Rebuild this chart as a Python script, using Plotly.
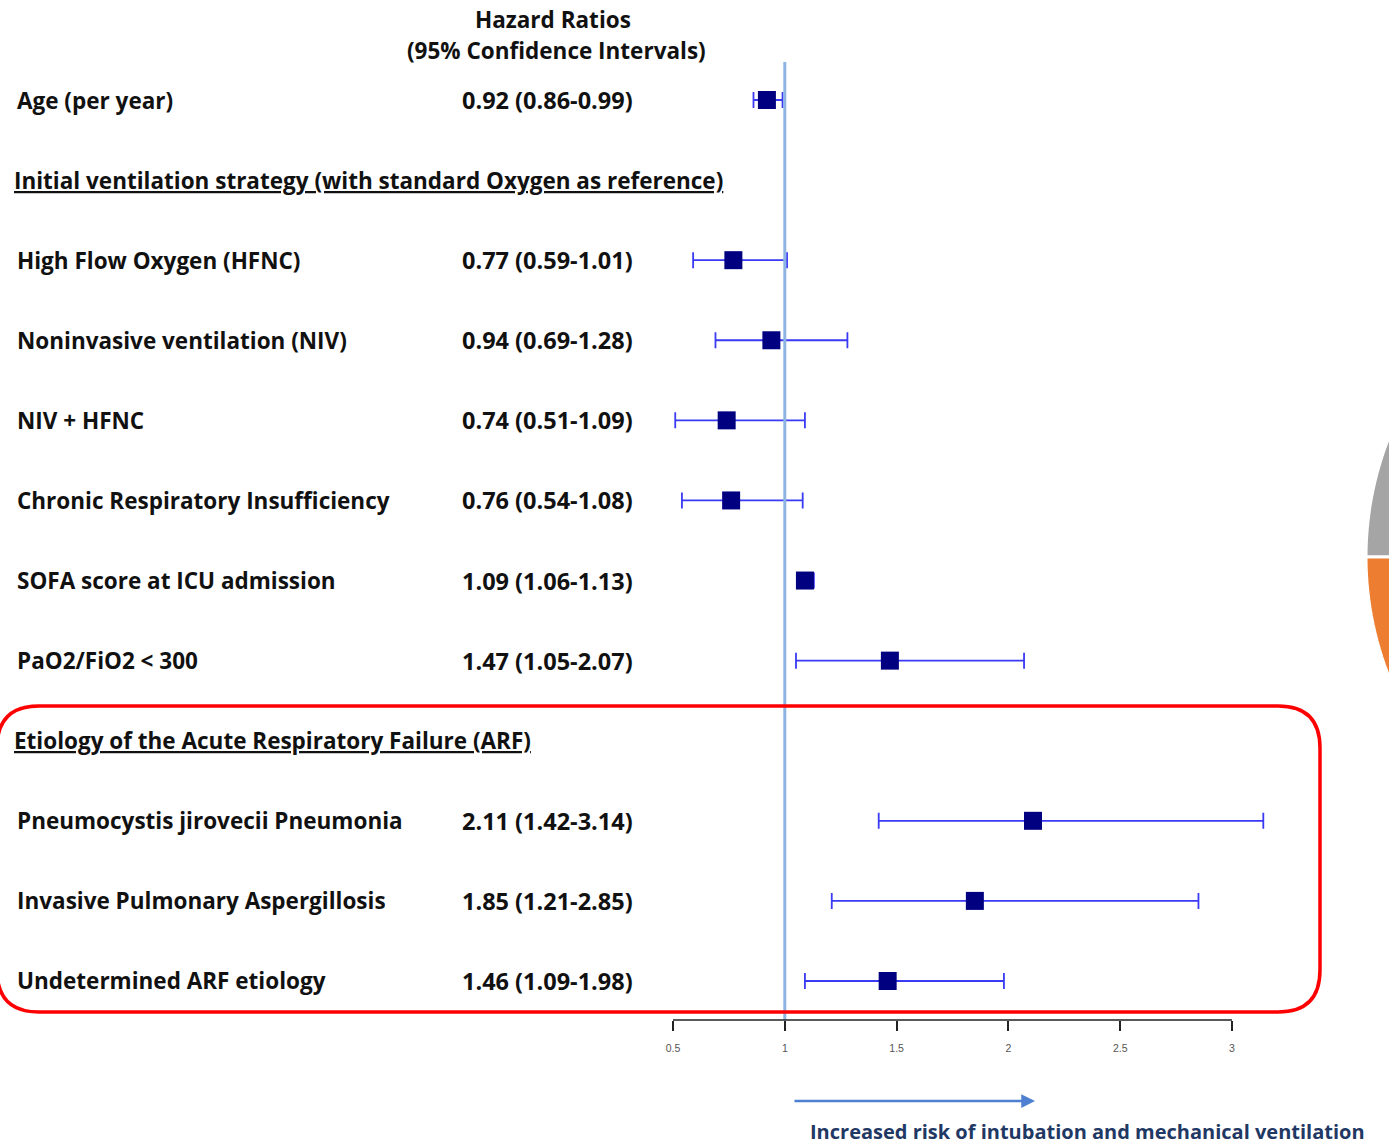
import math
import plotly.graph_objects as go

# ---------------- data ----------------
row_labels = [
    "Age (per year)",
    "Initial ventilation strategy (with standard Oxygen as reference)",
    "High Flow Oxygen (HFNC)",
    "Noninvasive ventilation (NIV)",
    "NIV + HFNC",
    "Chronic Respiratory Insufficiency",
    "SOFA score at ICU admission",
    "PaO2/FiO2 < 300",
    "Etiology of the Acute Respiratory Failure (ARF)",
    "Pneumocystis jirovecii Pneumonia",
    "Invasive Pulmonary Aspergillosis",
    "Undetermined ARF etiology",
]
is_header = [False, True, False, False, False, False, False, False, True, False, False, False]
hr_values = [0.92, None, 0.77, 0.94, 0.74, 0.76, 1.09, 1.47, None, 2.11, 1.85, 1.46]
ci_lower = [0.86, None, 0.59, 0.69, 0.51, 0.54, 1.06, 1.05, None, 1.42, 1.21, 1.09]
ci_upper = [0.99, None, 1.01, 1.28, 1.09, 1.08, 1.13, 2.07, None, 3.14, 2.85, 1.98]
tick_vals = [0.5, 1, 1.5, 2, 2.5, 3]
tick_text = ["0.5", "1", "1.5", "2", "2.5", "3"]
reference_value = 1

# ---------------- geometry helpers ----------------
W, H = 1389, 1147
B = 127                 # bottom margin -> axis line at pixel y = 1020
PH = H - B              # plot height in px
ROW0_PX, ROW_STEP = 100, 80.09
PX_PER_UNIT = 223.6
X0_PX = 673             # pixel of x = 0.5

x_range = [0.5 - X0_PX / PX_PER_UNIT, 0.5 + (W - X0_PX) / PX_PER_UNIT]
y_top = -ROW0_PX / ROW_STEP
y_range = [y_top + PH / ROW_STEP, y_top]


def px(x):
    return x / W


def py(y):
    return (PH - y) / PH


def path_px(cmds):
    out = []
    for c in cmds:
        if isinstance(c, str):
            out.append(c)
        else:
            out.append(f"{px(c[0]):.5f},{py(c[1]):.5f}")
    return " ".join(out)


rows_idx = list(range(len(row_labels)))
d_idx = [i for i in rows_idx if hr_values[i] is not None]
d_hr = [hr_values[i] for i in d_idx]
d_plus = [ci_upper[i] - hr_values[i] for i in d_idx]
d_minus = [hr_values[i] - ci_lower[i] for i in d_idx]

fig = go.Figure()
fig.add_trace(go.Scatter(
    x=d_hr, y=d_idx, mode="markers",
    marker=dict(symbol="square", size=18, color="#000080",
                line=dict(width=0)),
    error_x=dict(type="data", symmetric=False, array=d_plus, arrayminus=d_minus,
                 color="#3a3af5", thickness=1.8, width=8),
    showlegend=False, hoverinfo="skip",
))

FONT = "Open Sans"
TXT = "#111111"
FS = 22.5
FS_HR = 23.5
anns = []
for i in rows_idx:
    if is_header[i]:
        anns.append(dict(x=px(12), y=i, xref="paper", yref="y", xanchor="left",
                         yanchor="middle", showarrow=False,
                         text=f"<u>{row_labels[i]}</u>",
                         font=dict(family=FONT, size=FS, color=TXT, weight="bold")))
    else:
        anns.append(dict(x=px(15), y=i, xref="paper", yref="y", xanchor="left",
                         yanchor="middle", showarrow=False, text=row_labels[i],
                         font=dict(family=FONT, size=FS, color=TXT, weight="bold")))
        t = f"{hr_values[i]:.2f} ({ci_lower[i]:.2f}-{ci_upper[i]:.2f})"
        anns.append(dict(x=px(460), y=i, xref="paper", yref="y", xanchor="left",
                         yanchor="middle", showarrow=False, text=t,
                         font=dict(family=FONT, size=FS_HR, color=TXT, weight="bold")))

anns.append(dict(x=px(553), y=py(19), xref="paper", yref="paper", showarrow=False,
                 text="Hazard Ratios", xanchor="center", yanchor="middle",
                 font=dict(family=FONT, size=FS, color=TXT, weight="bold")))
anns.append(dict(x=px(556), y=py(50), xref="paper", yref="paper", showarrow=False,
                 text="(95% Confidence Intervals)", xanchor="center", yanchor="middle",
                 font=dict(family=FONT, size=FS, color=TXT, weight="bold")))
# arrow
anns.append(dict(x=px(1035), y=py(1101), xref="paper", yref="paper", text="",
                 showarrow=True, ax=-242, ay=0, arrowhead=2, arrowsize=1.1,
                 arrowwidth=2.5, arrowcolor="#4f7fd0"))
anns.append(dict(x=px(808), y=py(1131), xref="paper", yref="paper", showarrow=False,
                 text="Increased risk of intubation and mechanical ventilation",
                 xanchor="left", yanchor="middle",
                 font=dict(family=FONT, size=20, color="#1f3864", weight="bold")))

shapes = []
# reference line
shapes.append(dict(type="line", xref="x", yref="paper", x0=reference_value, x1=reference_value,
                   y0=0, y1=py(62), line=dict(color="#8db4e2", width=3)))
# axis line
shapes.append(dict(type="line", xref="x", yref="paper", x0=tick_vals[0], x1=tick_vals[-1],
                   y0=0, y1=0, line=dict(color="#222222", width=1.5)))
# red rounded rectangle
L, R, T, Bt, rad = -3, 1320, 706, 1012, 42
rr = path_px(["M", (L + rad, T), "L", (R - rad, T), "Q", (R, T), (R, T + rad),
              "L", (R, Bt - rad), "Q", (R, Bt), (R - rad, Bt),
              "L", (L + rad, Bt), "Q", (L, Bt), (L, Bt - rad),
              "L", (L, T + rad), "Q", (L, T), (L + rad, T), "Z"])
shapes.append(dict(type="path", xref="paper", yref="paper", path=rr,
                   line=dict(color="#ff0000", width=3.5)))

# pie fragment at right edge
cx, cy, r = 1690, 557, 324


def sector(a0, a1, n=40):
    pts = ["M", (cx, cy)]
    for k in range(n + 1):
        a = math.radians(a0 + (a1 - a0) * k / n)
        pts += ["L", (cx + r * math.cos(a), cy + r * math.sin(a))]
    pts.append("Z")
    return path_px(pts)


shapes.append(dict(type="path", xref="paper", yref="paper", path=sector(180, 240),
                   fillcolor="#a5a5a5", line=dict(color="white", width=3)))
shapes.append(dict(type="path", xref="paper", yref="paper", path=sector(120, 180),
                   fillcolor="#ed7d31", line=dict(color="white", width=3)))

fig.update_layout(
    width=W, height=H,
    margin=dict(l=0, r=0, t=0, b=B, pad=0),
    paper_bgcolor="white", plot_bgcolor="white",
    xaxis=dict(range=x_range, showgrid=False, zeroline=False, showline=False,
               tickvals=tick_vals, ticktext=tick_text, ticks="outside",
               ticklen=10, tickwidth=1.5, tickcolor="#222222",
               tickfont=dict(family="Liberation Sans", size=10.5, color="#555555"),
               ticklabelstandoff=8, fixedrange=True),
    yaxis=dict(range=y_range, visible=False, fixedrange=True),
    annotations=anns, shapes=shapes,
)

fig.write_html("out.html", config={"displayModeBar": False},
               post_script="document.body.style.margin='0';document.body.style.overflow='hidden';")
